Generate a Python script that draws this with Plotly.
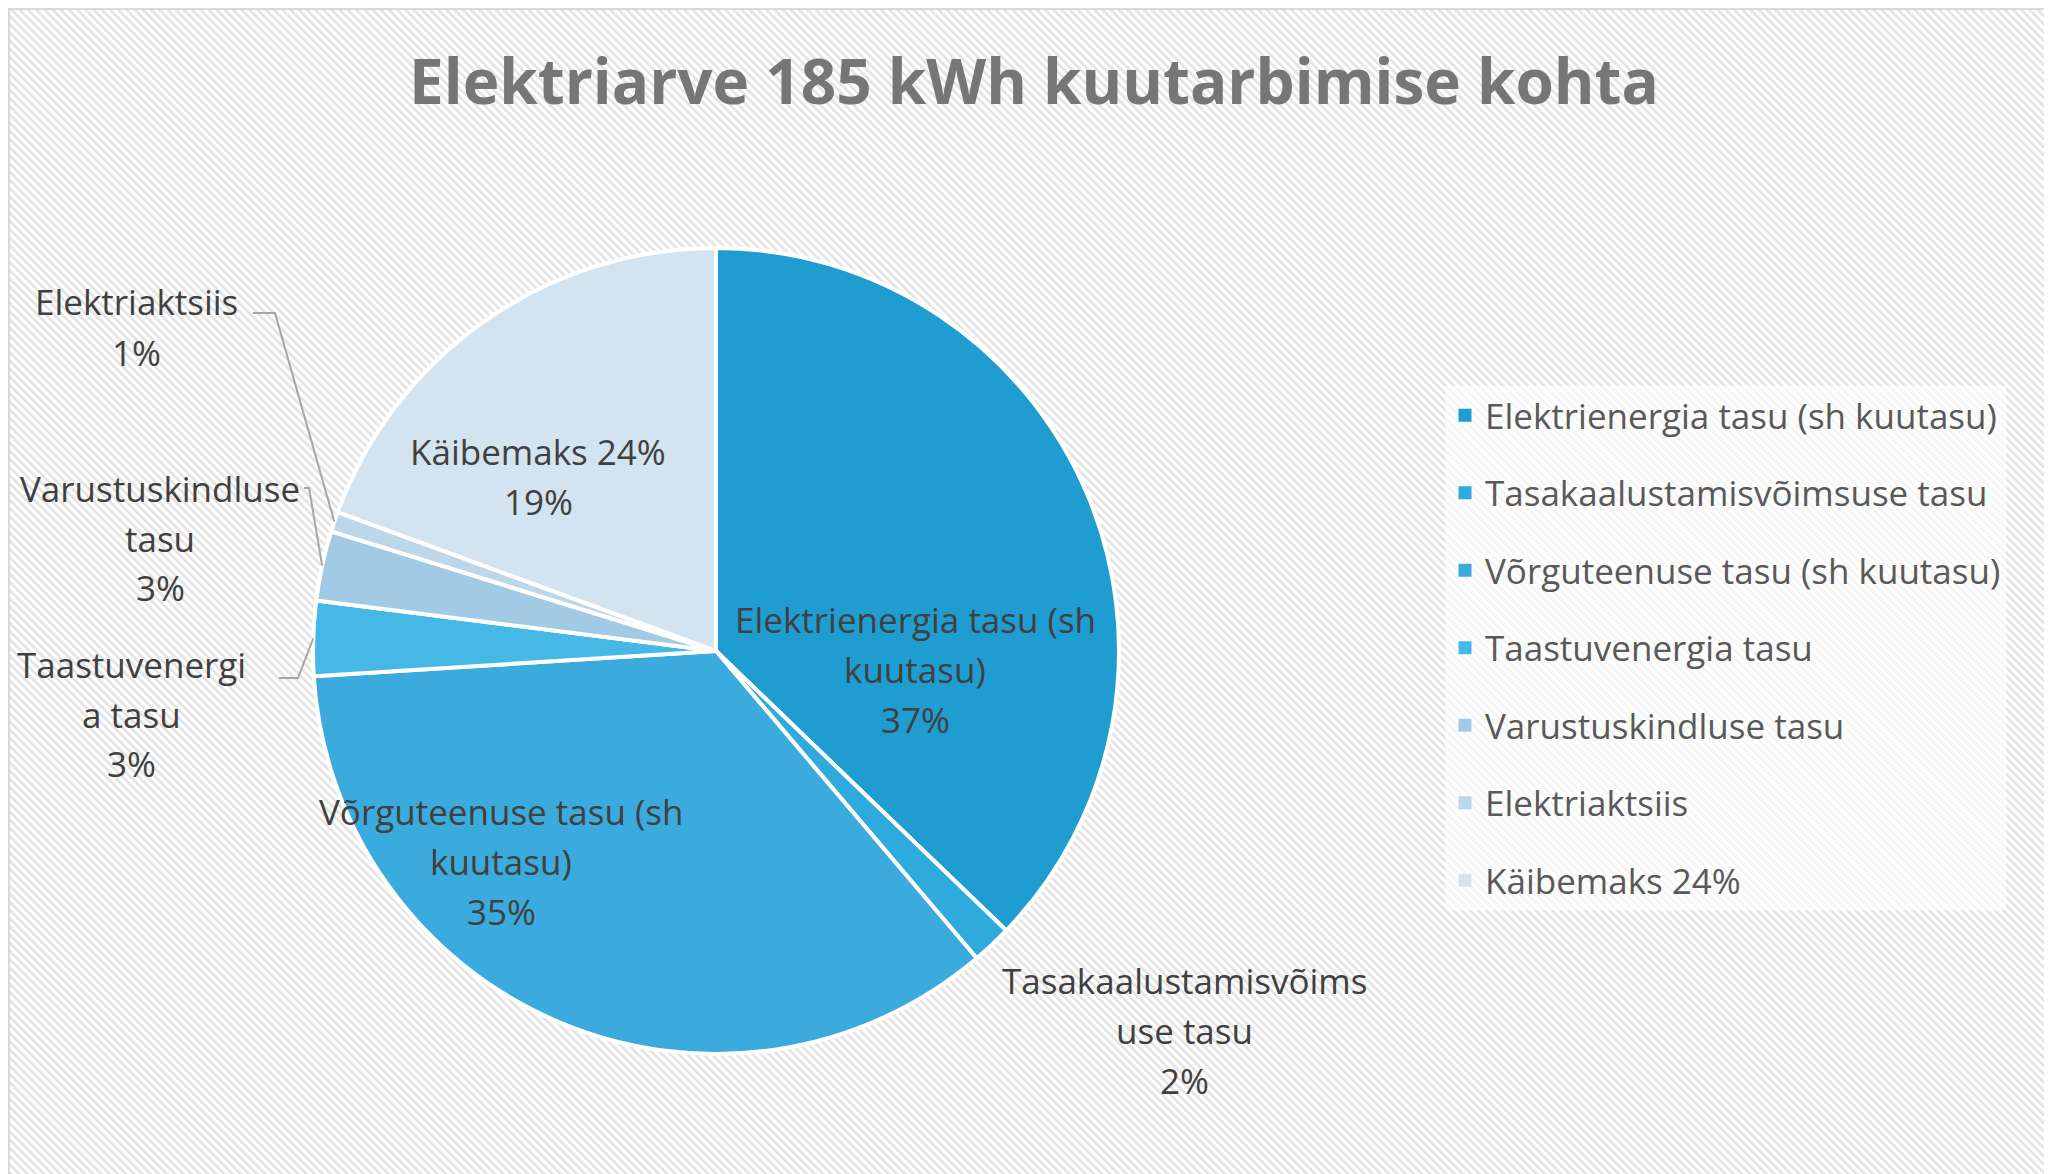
import base64
import math
import plotly.graph_objects as go

W, H = 2052, 1174

# data (share of the bill, %)
categories = ["Elektrienergia tasu (sh kuutasu)", "Tasakaalustamisvõimsuse tasu",
              "Võrguteenuse tasu (sh kuutasu)", "Taastuvenergia tasu",
              "Varustuskindluse tasu", "Elektriaktsiis", "Käibemaks 24%"]
values = [37.2, 1.6, 35.2, 3.0, 2.8, 0.8, 19.4]
label_lines = [["Elektrienergia tasu (sh", "kuutasu)"],
               ["Tasakaalustamisvõims", "use tasu"],
               ["Võrguteenuse tasu (sh", "kuutasu)"],
               ["Taastuvenergi", "a tasu"],
               ["Varustuskindluse", "tasu"],
               ["Elektriaktsiis"],
               ["Käibemaks 24%"]]
title = "Elektriarve 185 kWh kuutarbimise kohta"

# styles / layout
colors = ["#1f9dd0", "#2eaadd", "#3aabdc", "#45b8e6", "#a3cae4", "#bcd6ea", "#d4e3f0"]
cx, cy, R = 708, 643, 403          # pie centre and radius, px
label_xy = [(907, 611), (1176, 972), (493, 803), (123, 656), (152, 480), (128, 294), (530, 443)]
line_gap = 50
leader_start = {3: [(271, 670), (290, 670)], 4: [(296, 480), (301, 480)], 5: [(245, 305), (267, 305)]}
font = "Open Sans"
label_size = 35


def px(x):
    return x / W


def py(y):
    return 1 - y / H


# striped background as an svg pattern
svg = ("<svg xmlns='http://www.w3.org/2000/svg' width='%d' height='%d'>"
       "<defs><pattern id='p' width='5.8' height='5.8' patternUnits='userSpaceOnUse' patternTransform='rotate(-45)'>"
       "<rect width='5.8' height='5.8' fill='#ffffff'/><rect width='2.6' height='5.8' fill='#e3e3e3'/>"
       "</pattern></defs><rect width='100%%' height='100%%' fill='url(#p)'/></svg>") % (W, H)
bg = "data:image/svg+xml;base64," + base64.b64encode(svg.encode()).decode()

fig = go.Figure()
fig.add_trace(go.Pie(labels=categories, values=values, sort=False, direction="clockwise", rotation=0,
                     marker=dict(colors=colors, line=dict(color="white", width=4)),
                     textinfo="none", hoverinfo="label+percent", showlegend=False,
                     domain=dict(x=[px(cx - R), px(cx + R)], y=[py(cy + R), py(cy - R)])))

# legend entries
for cat, col in zip(categories, colors):
    fig.add_trace(go.Scatter(x=[None], y=[None], mode="markers", name=cat, legendgroup=cat,
                             marker=dict(symbol="square", size=13, color=col), hoverinfo="skip"))

total = sum(values)
annotations = []
shapes = []
cum = 0
for i, v in enumerate(values):
    lines = label_lines[i] + ["%d%%" % round(v / total * 100)]
    lx, ly = label_xy[i]
    for k, t in enumerate(lines):
        annotations.append(dict(x=px(lx), y=py(ly + k * line_gap), xref="paper", yref="paper",
                                text=t, showarrow=False, xanchor="center", yanchor="middle",
                                font=dict(family=font, size=label_size, color="#404040")))
    mid = (cum + v / 2) / total * 2 * math.pi
    cum += v
    if i in leader_start:
        tx, ty = cx + R * math.sin(mid), cy - R * math.cos(mid)
        pts = leader_start[i] + [(tx, ty)]
        path = "M " + " L ".join("%f %f" % (px(a), py(b)) for a, b in pts)
        shapes.append(dict(type="path", path=path, xref="paper", yref="paper",
                           line=dict(color="#a6a6a6", width=2)))

shapes.append(dict(type="rect", xref="paper", yref="paper", x0=0, y0=0, x1=1, y1=1,
                   line=dict(color="#d9d9d9", width=4)))

fig.update_layout(
    width=W, height=H,
    margin=dict(l=0, r=0, t=0, b=0),
    paper_bgcolor="white", plot_bgcolor="rgba(0,0,0,0)",
    xaxis=dict(visible=False), yaxis=dict(visible=False),
    images=[dict(source=bg, xref="paper", yref="paper", x=0, y=1, sizex=1, sizey=1,
                 sizing="stretch", layer="below")],
    title=dict(text="<b>" + title + "</b>", x=0.5, xanchor="center", y=py(74), yanchor="middle",
               font=dict(family=font, size=62, color="#767676")),
    legend=dict(x=px(1437), y=py(378), xanchor="left", yanchor="top",
                bgcolor="rgba(255,255,255,0.65)", tracegroupgap=29,
                font=dict(family=font, size=label_size, color="#595959")),
    annotations=annotations,
    shapes=shapes,
)

fig.write_html("out.html")
